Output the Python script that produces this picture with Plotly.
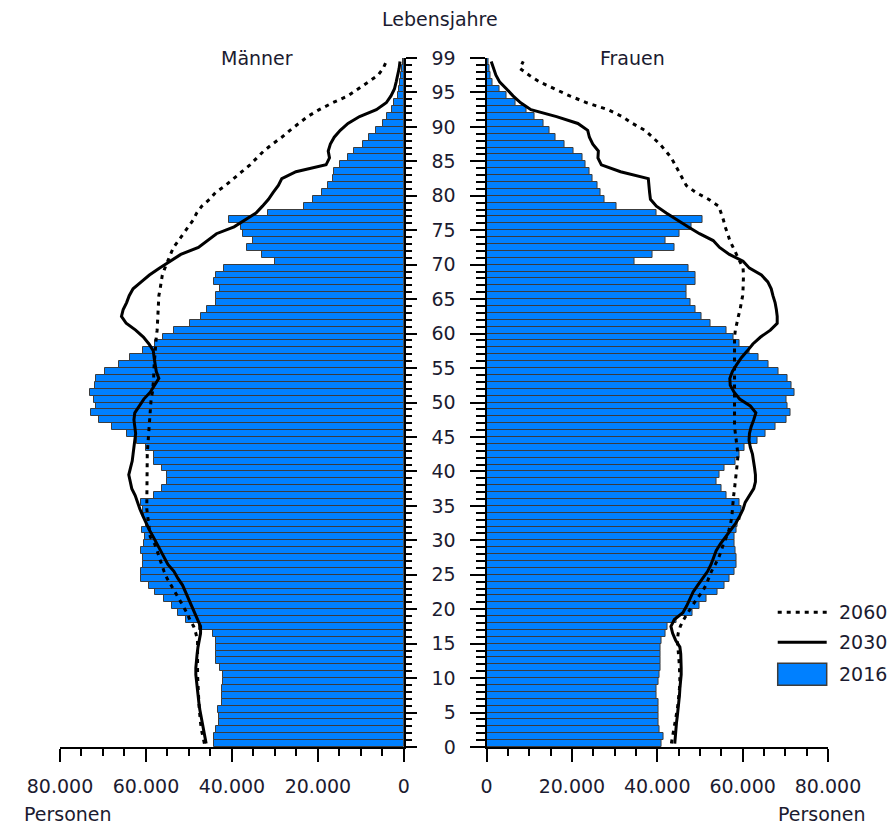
import plotly.graph_objects as go

ages = list(range(100))

maenner_2016 = [44.2, 44.2, 43.8, 43.1, 43.0, 43.2, 42.2, 42.4, 42.4, 42.1,
                42.1, 42.8, 43.8, 43.6, 43.6, 43.8, 44.5, 47.6, 50.8, 52.5,
                54.0, 55.7, 57.8, 59.3, 61.1, 61.1, 60.7, 60.7, 61.1, 60.4,
                60.3, 61.0, 60.1, 60.5, 60.7, 61.1, 58.1, 56.2, 55.0, 55.0,
                56.2, 58.1, 58.1, 60.1, 62.0, 64.5, 67.9, 71.0, 72.7, 71.7,
                72.1, 73.1, 71.9, 71.7, 69.6, 66.3, 63.7, 60.7, 57.8, 56.0,
                53.5, 49.7, 47.1, 45.9, 43.8, 43.8, 42.8, 44.2, 43.8, 41.8,
                29.9, 32.9, 36.4, 35.2, 37.5, 37.9, 40.7, 31.7, 23.2, 21.2,
                19.0, 17.7, 16.6, 16.2, 14.8, 13.1, 11.7, 9.6, 8.0, 6.6,
                4.9, 3.9, 2.7, 2.3, 1.4, 1.2, 1.0, 0.6, 0.4, 0.3]

maenner_2030 = [46.0, 46.3, 46.6, 47.0, 47.3, 47.5, 47.7, 47.9, 48.1, 48.3,
                48.4, 48.4, 48.3, 48.1, 47.9, 47.6, 47.3, 47.3, 48.0, 48.6,
                49.4, 50.0, 50.8, 51.5, 52.6, 53.5, 54.9, 55.8, 56.6, 57.6,
                58.3, 59.2, 60.0, 60.7, 61.4, 62.0, 62.5, 63.3, 63.7, 64.0,
                63.6, 63.2, 63.0, 62.8, 62.6, 62.4, 62.6, 62.8, 62.6, 61.5,
                60.5, 59.0, 58.0, 57.0, 57.6, 57.9, 58.1, 58.3, 59.3, 60.6,
                62.4, 64.6, 65.7, 65.3, 64.5, 63.9, 63.0, 61.1, 59.2, 56.9,
                54.3, 51.9, 47.8, 45.7, 43.6, 39.5, 36.8, 34.4, 32.9, 31.5,
                30.4, 29.2, 28.4, 25.1, 18.1, 17.3, 17.6, 17.1, 16.2, 14.8,
                13.0, 10.3, 6.4, 4.1, 3.0, 2.2, 1.8, 1.4, 1.1, 0.9]

maenner_2060 = [46.4, 46.8, 47.1, 47.3, 47.5, 47.6, 47.7, 47.8, 47.9, 48.0,
                48.0, 48.0, 48.0, 48.0, 48.0, 48.0, 48.4, 48.9, 49.8, 50.5,
                51.4, 52.3, 53.3, 54.3, 55.1, 55.8, 56.4, 56.9, 57.4, 58.0,
                59.0, 59.2, 59.4, 59.6, 59.8, 59.8, 59.8, 59.8, 59.8, 59.8,
                59.8, 59.8, 59.7, 59.6, 59.5, 59.4, 59.3, 59.2, 59.1, 59.0,
                58.8, 58.5, 58.3, 58.2, 58.2, 58.1, 58.0, 57.9, 57.8, 57.6,
                57.4, 57.3, 57.2, 57.1, 57.1, 57.0, 56.7, 56.4, 56.2, 55.6,
                55.0, 54.3, 53.6, 52.4, 51.2, 50.2, 49.0, 48.2, 47.0, 45.2,
                43.8, 41.5, 39.5, 37.7, 35.8, 34.2, 32.6, 30.6, 28.4, 26.5,
                24.5, 22.4, 19.7, 16.6, 13.0, 10.7, 8.2, 6.0, 4.8, 4.1]

frauen_2016 = [40.9, 41.4, 40.6, 40.2, 40.2, 40.4, 40.4, 39.8, 39.8, 40.4,
               40.6, 40.8, 40.8, 40.8, 40.8, 40.9, 42.0, 42.5, 44.5, 48.2,
               49.9, 51.5, 54.2, 55.8, 57.0, 58.1, 58.5, 58.5, 58.4, 58.1,
               58.1, 58.5, 58.9, 59.5, 59.7, 59.3, 56.2, 55.0, 53.9, 54.5,
               55.8, 58.4, 59.3, 60.5, 63.4, 65.3, 67.7, 70.2, 71.2, 70.6,
               70.4, 72.2, 71.4, 70.6, 68.5, 66.1, 63.8, 61.6, 59.3, 57.9,
               56.2, 52.4, 50.3, 49.0, 47.8, 46.8, 46.8, 49.0, 49.0, 47.4,
               34.6, 38.8, 44.1, 41.9, 45.3, 48.1, 50.7, 39.9, 30.4, 27.7,
               26.7, 25.9, 24.9, 24.2, 23.2, 22.5, 20.4, 18.3, 16.1, 14.8,
               13.3, 11.3, 9.4, 6.9, 4.8, 3.1, 1.5, 1.0, 0.6, 0.4]

frauen_2030 = [44.1, 44.2, 44.3, 44.5, 44.7, 44.9, 45.0, 45.2, 45.3, 45.5,
               45.6, 45.6, 45.6, 45.5, 45.3, 44.3, 43.6, 43.2, 44.0, 46.0,
               46.9, 47.6, 48.4, 49.5, 50.6, 51.8, 52.6, 53.2, 53.8, 54.8,
               56.0, 57.4, 58.4, 59.3, 60.1, 60.6, 61.6, 62.6, 63.0, 63.0,
               62.8, 62.6, 62.3, 61.8, 61.5, 61.6, 62.0, 62.6, 63.1, 61.8,
               59.3, 58.0, 57.1, 57.0, 57.6, 58.6, 59.7, 61.1, 62.4, 64.2,
               66.5, 68.1, 68.1, 67.9, 67.6, 67.1, 66.7, 65.9, 64.4, 61.6,
               60.1, 56.9, 54.6, 53.1, 49.9, 47.2, 44.5, 42.1, 39.8, 38.4,
               38.2, 38.1, 37.9, 31.4, 26.9, 26.1, 26.2, 24.9, 24.1, 23.7,
               21.4, 16.4, 10.4, 8.0, 6.2, 4.7, 3.1, 2.2, 1.6, 1.1]

frauen_2060 = [43.3, 43.6, 43.9, 44.2, 44.5, 44.7, 44.9, 45.1, 45.2, 45.3,
               45.3, 45.2, 45.1, 45.0, 44.9, 44.7, 44.9, 45.4, 46.2, 47.1,
               48.2, 49.3, 50.5, 51.4, 52.0, 52.7, 53.6, 54.4, 55.0, 55.5,
               56.2, 56.8, 57.2, 57.5, 57.6, 57.7, 57.9, 58.1, 58.3, 58.5,
               58.7, 58.8, 58.9, 58.7, 58.5, 58.3, 58.1, 58.1, 58.1, 58.1,
               58.1, 58.1, 58.1, 58.1, 58.1, 58.1, 58.1, 58.1, 58.1, 58.1,
               58.3, 58.6, 59.0, 59.4, 59.7, 60.0, 60.1, 60.2, 60.2, 60.1,
               59.3, 58.5, 57.8, 57.0, 56.5, 55.9, 55.5, 55.0, 54.4, 52.0,
               49.0, 46.8, 45.9, 44.9, 44.2, 43.3, 42.0, 40.6, 38.9, 37.1,
               34.2, 31.8, 28.5, 23.5, 19.5, 15.8, 12.5, 10.0, 7.8, 8.6]

age_tickvals = list(range(0, 101, 5))
age_ticktext = [str(v) for v in range(0, 96, 5)] + ["99"]
x_tickvals = [0, 20000, 40000, 60000, 80000]
x_ticktext = ["0", "20.000", "40.000", "60.000", "80.000"]

FONT = "DejaVu Sans"
TXT = "#1b1b30"
BLUE = "#0080ff"
EDGE = "#3c3c3c"

y_centers = [a + 0.5 for a in ages]
k = lambda arr: [v * 1000 for v in arr]

fig = go.Figure()
for xa, ya, d16, d30, d60 in [("x", "y", maenner_2016, maenner_2030, maenner_2060),
                              ("x2", "y2", frauen_2016, frauen_2030, frauen_2060)]:
    fig.add_trace(go.Bar(x=k(d16), y=y_centers, orientation="h", width=1,
                         marker=dict(color=BLUE, line=dict(color=EDGE, width=1)),
                         xaxis=xa, yaxis=ya, name="2016", showlegend=False))
    fig.add_trace(go.Scatter(x=k(d30), y=y_centers, mode="lines",
                             line=dict(color="black", width=3),
                             xaxis=xa, yaxis=ya, name="2030", showlegend=False))
    fig.add_trace(go.Scatter(x=k(d60), y=y_centers, mode="lines",
                             line=dict(color="black", width=3, dash="4px,5px"),
                             xaxis=xa, yaxis=ya, name="2060", showlegend=False))

W, H = 889, 826
L = 60
T = 58.2
B = H - 746.7
R = W - 828.3
PW = W - L - R
PH = H - T - B

def px(x):  # page pixel -> paper
    return (x - L) / PW

def py(y):
    return (H - B - y) / PH

xcommon = dict(tickvals=x_tickvals, ticktext=x_ticktext,
               ticks="outside", ticklen=13, tickwidth=1.5, tickcolor="black",
               showline=True, linecolor="black", linewidth=2, showgrid=False,
               zeroline=False, ticklabelstandoff=8,
               tickfont=dict(family=FONT, size=19, color=TXT),
               minor=dict(tickmode="linear", tick0=0, dtick=5000, ticks="outside",
                          ticklen=7, tickwidth=1.5, tickcolor="black", showgrid=False))

ycommon = dict(range=[0, 100], tickvals=age_tickvals, ticktext=age_ticktext,
               ticks="outside", tickwidth=1.5, tickcolor="black",
               showline=True, linecolor="black", linewidth=2, showgrid=False,
               zeroline=False, tickfont=dict(family=FONT, size=19, color=TXT))

fig.update_layout(
    width=W, height=H, autosize=False,
    margin=dict(l=L, r=R, t=T, b=B, pad=0),
    paper_bgcolor="white", plot_bgcolor="white",
    bargap=0, barmode="overlay", showlegend=False,
    font=dict(family=FONT, size=19, color=TXT),
    xaxis=dict(domain=[0, px(404)], anchor="y", range=[80000, 0], **xcommon),
    xaxis2=dict(domain=[px(486.7), 1], anchor="y2", range=[0, 80000], **xcommon),
    yaxis=dict(anchor="x", side="right", ticklen=11, showticklabels=False,
               minor=dict(tickmode="linear", tick0=0, dtick=1, ticks="outside",
                          ticklen=6, tickwidth=1.5, tickcolor="black", showgrid=False),
               **ycommon),
    yaxis2=dict(anchor="x2", side="left", ticklen=15, ticklabelstandoff=10,
                minor=dict(tickmode="linear", tick0=0, dtick=1, ticks="outside",
                           ticklen=8.5, tickwidth=1.5, tickcolor="black", showgrid=False),
                **ycommon),
)

ann = dict(xref="paper", yref="paper", showarrow=False,
           font=dict(family=FONT, size=19, color=TXT))
fig.add_annotation(text="Lebensjahre", x=px(440), y=py(19), xanchor="center", yanchor="middle", **ann)
fig.add_annotation(text="Männer", x=px(257), y=py(58), xanchor="center", yanchor="middle", **ann)
fig.add_annotation(text="Frauen", x=px(633), y=py(58), xanchor="center", yanchor="middle", **ann)
fig.add_annotation(text="Personen", x=px(22), y=py(814), xanchor="left", yanchor="middle", **ann)
fig.add_annotation(text="Personen", x=px(868), y=py(814), xanchor="right", yanchor="middle", **ann)

# manual legend
leg_x0, leg_x1 = px(778), px(827)
fig.add_shape(type="line", xref="paper", yref="paper", x0=leg_x0, x1=leg_x1,
              y0=py(612), y1=py(612), line=dict(color="black", width=3, dash="4px,5px"))
fig.add_shape(type="line", xref="paper", yref="paper", x0=leg_x0, x1=leg_x1,
              y0=py(642), y1=py(642), line=dict(color="black", width=3))
fig.add_shape(type="rect", xref="paper", yref="paper", x0=leg_x0, x1=leg_x1,
              y0=py(685), y1=py(663), fillcolor=BLUE, line=dict(color=EDGE, width=1.5))
for lab, yy in [("2060", 612), ("2030", 642), ("2016", 674)]:
    fig.add_annotation(text=lab, x=px(837), y=py(yy), xanchor="left", yanchor="middle", **ann)

fig.write_html("out.html",
               config={"displayModeBar": False},
               post_script="document.body.style.margin='0px';"
                           "document.body.style.overflow='hidden';")
